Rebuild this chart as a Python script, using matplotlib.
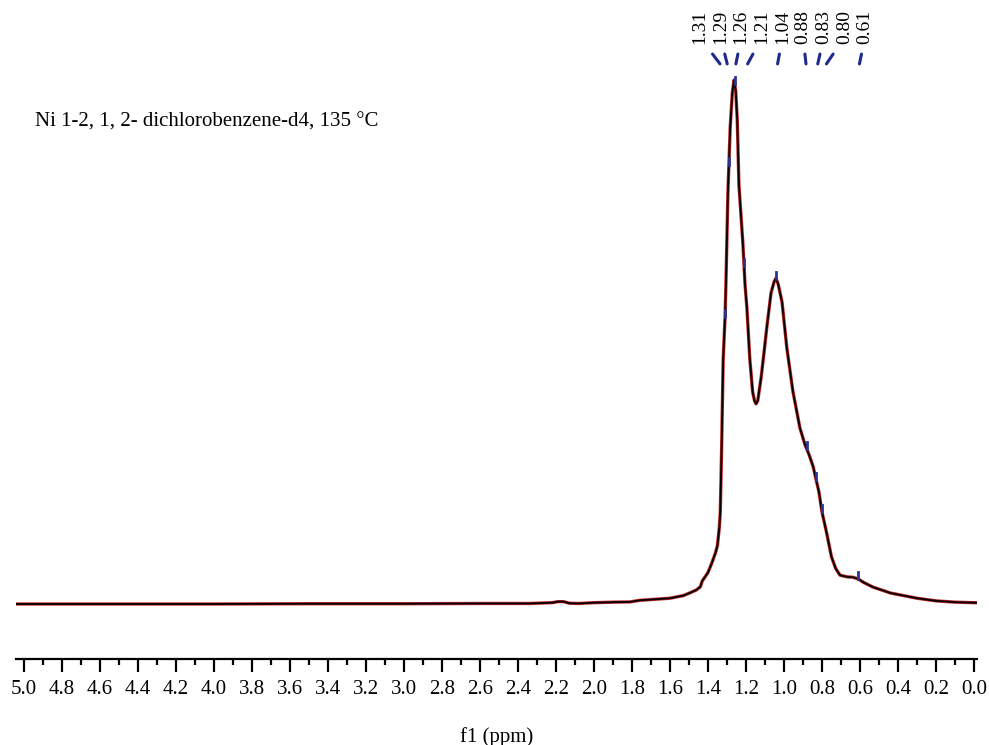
import matplotlib.pyplot as plt
import numpy as np
from matplotlib.ticker import MultipleLocator
from matplotlib import transforms

# spectrum trace (ppm, relative intensity, top peak = 100)
ppm = [5.05, 4.5, 4.0, 3.5, 3.0, 2.6, 2.34, 2.22, 2.19, 2.16, 2.13, 2.08, 2.0,
       1.9, 1.81, 1.76, 1.68, 1.6, 1.53, 1.49, 1.46, 1.44, 1.43, 1.40, 1.38,
       1.36, 1.35, 1.34, 1.335, 1.328, 1.32, 1.31, 1.305, 1.295, 1.283, 1.272,
       1.263, 1.254, 1.246, 1.237, 1.216, 1.205, 1.195, 1.18, 1.165, 1.155,
       1.147, 1.138, 1.12, 1.105, 1.09, 1.068, 1.052, 1.042, 1.03, 1.01,
       0.985, 0.953, 0.916, 0.89, 0.868, 0.847, 0.816, 0.80, 0.775, 0.75,
       0.728, 0.705, 0.67, 0.637, 0.61, 0.58, 0.53, 0.48, 0.44, 0.37, 0.3,
       0.2, 0.1, 0.0, -0.016]
intensity = [0.0, 0.0, 0.0, 0.05, 0.05, 0.1, 0.1, 0.25, 0.45, 0.45, 0.15, 0.1,
             0.25, 0.35, 0.4, 0.7, 0.9, 1.1, 1.6, 2.2, 2.7, 3.3, 4.4, 6.0, 7.8,
             9.8, 11.2, 14.7, 17.7, 30.0, 46.6, 54.8, 61.8, 78.6, 91.0, 97.5,
             100.0, 98.0, 92.5, 80.0, 68.7, 61.0, 56.5, 46.9, 40.5, 38.8,
             38.2, 38.8, 43.3, 48.0, 52.9, 59.4, 61.5, 62.2, 61.0, 57.6, 48.9,
             40.6, 33.6, 30.5, 28.5, 26.3, 21.4, 17.6, 13.5, 9.0, 6.8, 5.5,
             5.2, 5.1, 4.8, 4.1, 3.2, 2.6, 2.1, 1.6, 1.1, 0.6, 0.35, 0.25, 0.25]

peak_labels = ["1.31", "1.29", "1.26", "1.21", "1.04", "0.88", "0.83", "0.80", "0.61"]
peak_ppm = [1.31, 1.29, 1.26, 1.21, 1.04, 0.88, 0.83, 0.80, 0.61]
sample_text = "Ni 1-2, 1, 2- dichlorobenzene-d4, 135 °C"

plt.rcParams['font.family'] = ['Liberation Serif', 'DejaVu Serif']

fig = plt.figure(figsize=(9.89, 7.45), dpi=100)
ax = fig.add_axes([16 / 989, 1 - 659 / 745, 961 / 989, 659 / 745])

ax.plot(ppm, intensity, color='#c62828', lw=2.4, solid_capstyle='round')
ax.plot(ppm, intensity, color='black', lw=1.3)

ax.set_xlim(5.042, -0.016)
ax.set_ylim(-10.5, 115.3)

for side in ['top', 'left', 'right']:
    ax.spines[side].set_visible(False)
ax.spines['bottom'].set_linewidth(1.6)
ax.set_yticks([])
ax.xaxis.set_major_locator(MultipleLocator(0.2))
ax.xaxis.set_minor_locator(MultipleLocator(0.1))
ax.xaxis.set_major_formatter(lambda v, p: f"{abs(v):.1f}")
ax.tick_params(axis='x', which='major', direction='out', length=9, width=1.6,
               labelsize=15, pad=6, color='black')
ax.tick_params(axis='x', which='minor', direction='out', length=4, width=1.6)
ax.set_xlabel("f1 (ppm)", fontsize=15, labelpad=20)

# sample description
ax.text(0.035, 0.836, sample_text, transform=fig.transFigure, fontsize=15,
        ha='left', va='center')

# peak picking labels
blend = transforms.blended_transform_factory(ax.transData, ax.transAxes)
label_x = np.linspace(1.442, 0.574, len(peak_labels))
asc_ppm = np.array(ppm)[::-1]
asc_int = np.array(intensity)[::-1]
for lx, pp, lab in zip(label_x, peak_ppm, peak_labels):
    ax.text(lx, 0.933, lab, transform=blend, rotation=90, ha='center',
            va='bottom', fontsize=14, clip_on=False)
    d = pp - lx
    ax.plot([lx + 0.5 * d, lx + 0.8 * d], [0.918, 0.903], transform=blend,
            color='#1f2a8f', lw=2.2, solid_capstyle='round', clip_on=False)
    h = np.interp(pp, asc_ppm, asc_int)
    ax.plot([pp, pp], [h, h + 1.3], color='#283593', lw=2.0)

fig.savefig("out.png", dpi=100)
